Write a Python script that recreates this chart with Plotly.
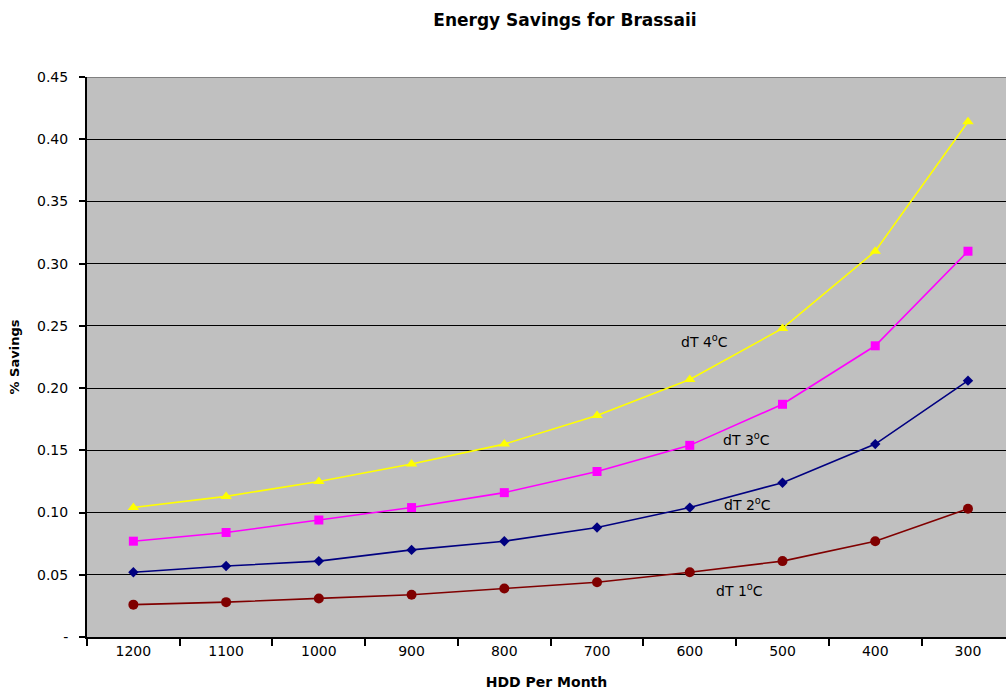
import plotly.graph_objects as go

# HDD per month categories (plotted left to right, high to low)
hdd = ["1200", "1100", "1000", "900", "800", "700", "600", "500", "400", "300"]

# Fractional energy savings for each temperature difference
dt1 = [0.026, 0.028, 0.031, 0.034, 0.039, 0.044, 0.052, 0.061, 0.077, 0.103]
dt2 = [0.052, 0.057, 0.061, 0.070, 0.077, 0.088, 0.104, 0.124, 0.155, 0.206]
dt3 = [0.077, 0.084, 0.094, 0.104, 0.116, 0.133, 0.154, 0.187, 0.234, 0.310]
dt4 = [0.104, 0.113, 0.125, 0.139, 0.155, 0.178, 0.207, 0.248, 0.310, 0.414]

y_ticks = [0, 0.05, 0.10, 0.15, 0.20, 0.25, 0.30, 0.35, 0.40, 0.45]
y_labels = ["-", "0.05", "0.10", "0.15", "0.20", "0.25", "0.30", "0.35", "0.40", "0.45"]

FONT = "DejaVu Sans, Liberation Sans, Arial"

series = [
    ("dT 4°C", dt4, "#FFFF00", "triangle-up", 10),
    ("dT 3°C", dt3, "#FF00FF", "square", 9),
    ("dT 2°C", dt2, "#000080", "diamond", 8),
    ("dT 1°C", dt1, "#800000", "circle", 10),
]

fig = go.Figure()
for name, vals, color, symbol, size in series:
    fig.add_trace(go.Scatter(
        x=hdd, y=vals, name=name, mode="lines+markers",
        line=dict(color=color, width=1.6),
        marker=dict(color=color, symbol=symbol, size=size),
        showlegend=False,
    ))

# Series labels placed beside the curves
labels = [
    ("dT 4<sup>o</sup>C", 6.16, 0.2375),
    ("dT 3<sup>o</sup>C", 6.61, 0.1595),
    ("dT 2<sup>o</sup>C", 6.62, 0.1065),
    ("dT 1<sup>o</sup>C", 6.54, 0.0375),
]
for text, x, y in labels:
    fig.add_annotation(x=x, y=y, xref="x", yref="y", text=text, showarrow=False,
                       font=dict(family=FONT, size=14, color="#000000"))

# Grey top edge of the plot area
fig.add_shape(type="line", xref="paper", yref="y", x0=0, x1=1, y0=0.45, y1=0.45,
              line=dict(color="#808080", width=2), layer="above")

fig.update_layout(
    width=1006, height=696,
    margin=dict(l=87, r=0, t=77, b=59),
    paper_bgcolor="#FFFFFF",
    plot_bgcolor="#C0C0C0",
    font=dict(family=FONT, size=14, color="#000000"),
    title=dict(text="<b>Energy Savings for Brassaii</b>", x=0.5616, xanchor="center",
               y=0.971, yanchor="middle", font=dict(size=17)),
)
fig.update_xaxes(
    type="category", range=[-0.5, 9.41],
    tickson="boundaries", ticks="outside", ticklen=7, tickwidth=2, tickcolor="#000000",
    showline=True, linecolor="#000000", linewidth=2,
    showgrid=False, zeroline=False,
    tickfont=dict(size=14),
    title=dict(text="<b>HDD Per Month</b>", font=dict(size=14), standoff=19),
)
fig.update_yaxes(
    range=[0, 0.45], tickvals=y_ticks, ticktext=y_labels,
    ticks="outside", ticklen=6, tickwidth=2, tickcolor="#000000",
    showline=True, linecolor="#000000", linewidth=2,
    showgrid=True, gridcolor="#000000", gridwidth=1.3, zeroline=False,
    tickfont=dict(size=14), ticklabelstandoff=8,
    title=dict(text="<b>% Savings</b>", font=dict(size=13), standoff=14),
)

fig.write_html("out.html")
